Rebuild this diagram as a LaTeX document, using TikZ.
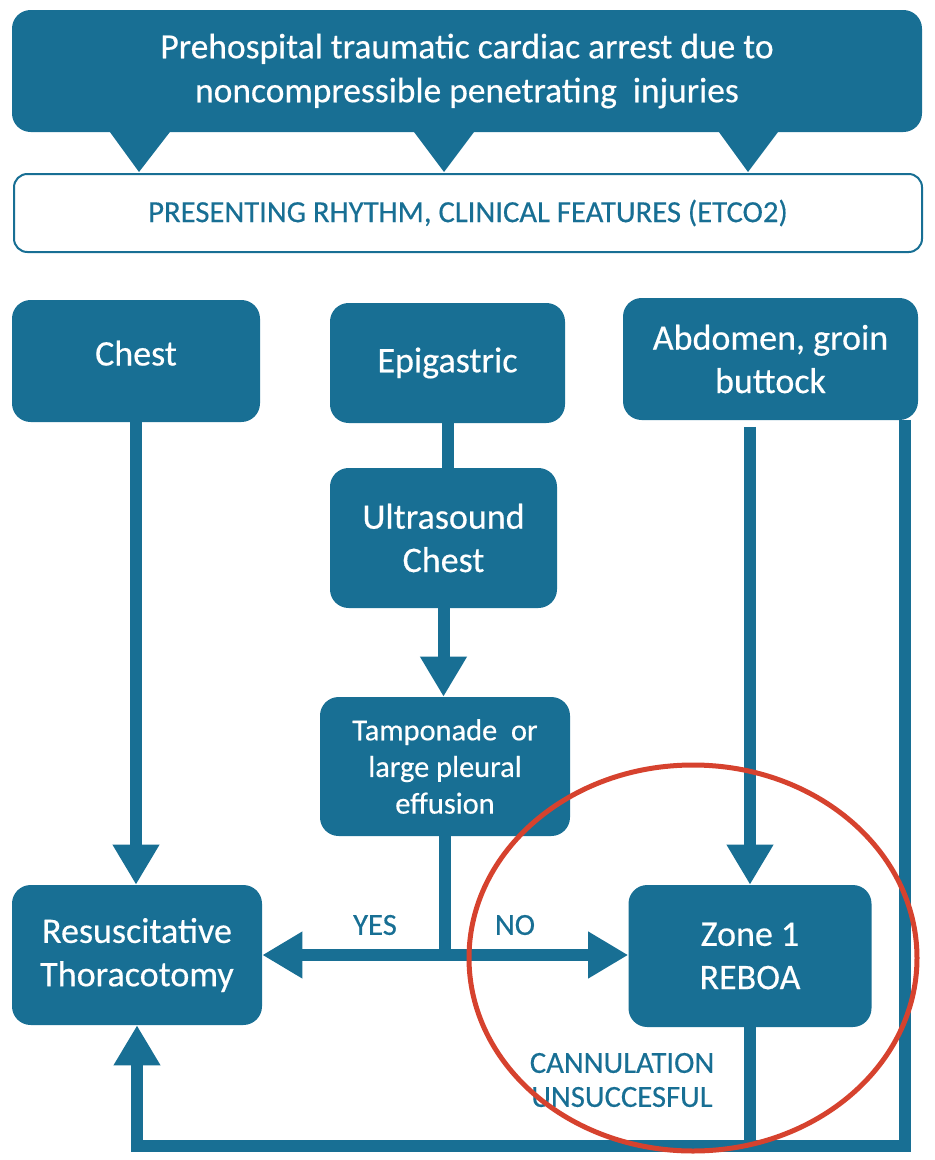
\documentclass[tikz,border=0pt]{standalone}
\usepackage{fontspec}
\setmainfont{Carlito}[FakeBold=0.4]
\usetikzlibrary{arrows.meta}
\definecolor{tblue}{RGB}{24,111,148}
\definecolor{tred}{RGB}{214,66,46}
\begin{document}
\begin{tikzpicture}[x=0.75pt,y=-0.75pt,
  box/.style={fill=tblue, rounded corners=14pt, text=white, align=center, inner sep=0pt, font=\fontsize{27}{32.5}\selectfont},
  smallbox/.style={box, font=\fontsize{22.8}{27.5}\selectfont},
  conn/.style={draw=tblue, line width=9pt},
  lbl/.style={text=tblue, font=\fontsize{23}{25.5}\selectfont, align=center, inner sep=0pt},
  >={Triangle[length=30pt,width=33pt]}]
\useasboundingbox (0,0) rectangle (935,1160);
% title
\node[box, minimum width=682.5pt, minimum height=91.5pt, font=\fontsize{26.6}{33}\selectfont] (title) at (467,71)
  {Prehospital traumatic cardiac arrest due to\\noncompressible penetrating\ \ injuries};
\fill[tblue] (107,128) -- (173,128) -- (139,172) -- cycle;
\fill[tblue] (411,128) -- (477,128) -- (444,172) -- cycle;
\fill[tblue] (716,128) -- (781,128) -- (748,172) -- cycle;
\node[draw=tblue, line width=1.5pt, fill=white, rounded corners=10pt, minimum width=681pt, minimum height=58.5pt,
  text=tblue, font=\fontsize{23}{25}\selectfont] (pres) at (468,213) {PRESENTING RHYTHM, CLINICAL FEATURES (ETCO2)};
% boxes
\node[box, minimum width=186pt, minimum height=91.5pt, text depth=12pt] (chest) at (136,361) {Chest};
\node[box, minimum width=176.25pt, minimum height=90pt] (epi) at (447.5,363) {Epigastric};
\node[box, minimum width=221.25pt, minimum height=91.5pt] (abd) at (770.5,359) {Abdomen, groin\\buttock};
\node[box, minimum width=170.25pt, minimum height=105pt] (us) at (443.5,538) {Ultrasound\\Chest};
\node[smallbox, minimum width=187.5pt, minimum height=104.25pt] (tamp) at (445,766.5) {Tamponade\ \ or\\large pleural\\effusion};
\node[box, minimum width=187.5pt, minimum height=105pt] (resus) at (137,955) {Resuscitative\\Thoracotomy};
\node[box, minimum width=182.25pt, minimum height=106.5pt] (zone) at (750,956) {Zone 1\\REBOA};
% connectors
\coordinate (br) at (905,1146);
\draw[conn, ->] (chest.south) -- (chest.south |- resus.north);
\draw[conn] (epi.south) -- (epi.south |- us.north);
\draw[conn, ->] (us.south) -- (us.south |- tamp.north);
\draw[conn] (tamp.south) -- (tamp.south |- resus.east);
\draw[conn, <->] (resus.east) -- (resus.east -| zone.west);
\draw[conn, ->] ([yshift=-5pt]abd.south -| zone.north) -- (zone.north);
\draw[conn] (zone.south) -- (zone.south |- br);
\draw[conn, ->] (abd.south -| br) -- (br) -- (br -| resus.south) -- (resus.south);
% labels
\node[lbl] (yes) at (375,925) {YES};
\node[lbl] (no) at (515,925) {NO};
\node[lbl] (cann) at (622,1080) {CANNULATION\\UNSUCCESFUL};
% red ellipse
\draw[tred, line width=3.75pt] (693,958) ellipse [x radius=224, y radius=193];
\end{tikzpicture}
\end{document}
